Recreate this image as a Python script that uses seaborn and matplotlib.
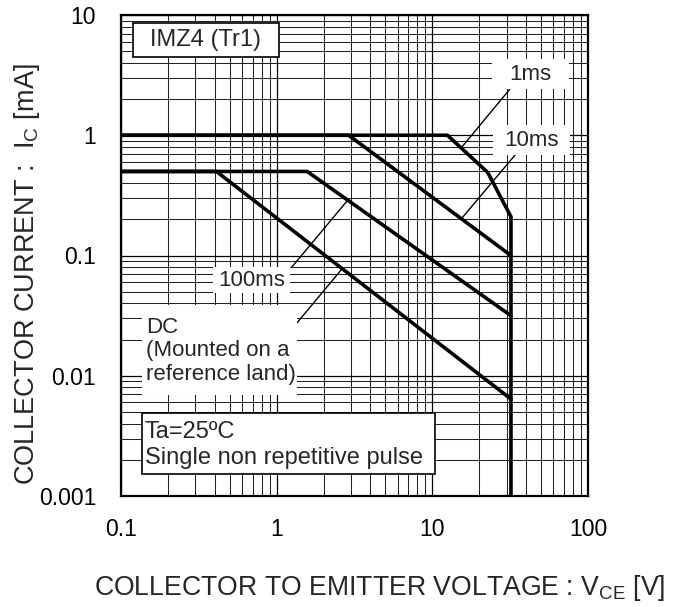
"""Safe operating area chart, IMZ4 (Tr1)."""
import matplotlib.pyplot as plt
import matplotlib.ticker as mticker
from matplotlib.patches import Rectangle
import numpy as np
import pandas as pd
import seaborn as sns

# curve vertices (V_CE [V], I_C [mA])
V_1MS = [0.1, 12.5, 22.7, 32.0, 32.0]
I_1MS = [1.0, 1.0, 0.49, 0.21, 0.001]
V_10MS = [0.1, 2.9, 32.0]
I_10MS = [1.0, 1.0, 0.1]
V_100MS = [0.1, 1.57, 32.0]
I_100MS = [0.5, 0.5, 0.0316]
V_DC = [0.1, 0.41, 32.0]
I_DC = [0.5, 0.5, 0.0064]

X_TICKS = [0.1, 1, 10, 100]
X_LABELS = ["0.1", "1", "10", "100"]
Y_TICKS = [0.001, 0.01, 0.1, 1, 10]
Y_LABELS = ["0.001", "0.01", "0.1", "1", "10"]

sns.set_theme(style="white")
plt.rcParams["font.family"] = ["Liberation Sans", "DejaVu Sans"]
plt.rcParams.update({
    "mathtext.fontset": "custom",
    "mathtext.rm": "Liberation Sans",
    "mathtext.it": "Liberation Sans",
})

df = pd.concat([
    pd.DataFrame({"V": V_1MS, "I": I_1MS, "curve": "1ms"}),
    pd.DataFrame({"V": V_10MS, "I": I_10MS, "curve": "10ms"}),
    pd.DataFrame({"V": V_100MS, "I": I_100MS, "curve": "100ms"}),
    pd.DataFrame({"V": V_DC, "I": I_DC, "curve": "DC"}),
])

fig = plt.figure(figsize=(6.84, 6.07), dpi=100)
ax = fig.add_axes([121 / 684, 1 - 496 / 607, 467 / 684, 481 / 607])
ax.set_xscale("log")
ax.set_yscale("log")
ax.set_xlim(0.1, 100)
ax.set_ylim(0.001, 10)

ax.xaxis.set_minor_locator(mticker.LogLocator(base=10, subs=np.arange(2, 10)))
ax.yaxis.set_minor_locator(mticker.LogLocator(base=10, subs=np.arange(2, 10)))
ax.grid(True, which="major", color="black", lw=0.9)
ax.grid(True, which="minor", color="#222222", lw=0.75)
ax.set_axisbelow(True)

for name, sub in df.groupby("curve", sort=False):
    sns.lineplot(data=sub, x="V", y="I", sort=False, estimator=None,
                 color="black", lw=2.6, ax=ax, legend=False, zorder=4)

ax.set_xticks(X_TICKS)
ax.set_xticklabels(X_LABELS)
ax.set_yticks(Y_TICKS)
ax.set_yticklabels(Y_LABELS)
ax.xaxis.set_minor_formatter(mticker.NullFormatter())
ax.yaxis.set_minor_formatter(mticker.NullFormatter())
ax.tick_params(which="both", length=0, labelsize=16.5, colors="black")
ax.tick_params(axis="x", pad=16)
ax.tick_params(axis="y", pad=18)
ax.set_xlabel("")
ax.set_ylabel("")
for sp in ax.spines.values():
    sp.set_visible(True)
    sp.set_color("black")
    sp.set_linewidth(1.6)
    sp.set_zorder(6)

# leader lines from labels to curves
leaders = [((31.5, 2.42), (15.5, 0.80)),
           ((34.0, 0.685), (15.5, 0.205)),
           ((1.25, 0.080), (2.87, 0.29)),
           ((1.35, 0.0275), (2.62, 0.077))]
for (x0, y0), (x1, y1) in leaders:
    ax.plot([x0, x1], [y0, y1], color="black", lw=1.0, zorder=5)


def label_box(x0, y0, x1, y1, edge):
    ax.add_patch(Rectangle((x0, y0), x1 - x0, y1 - y0, transform=ax.transAxes,
                           facecolor="white", edgecolor="black" if edge else "none",
                           lw=1.2, zorder=7))


label_box(0.026, 0.913, 0.338, 0.983, True)
ax.text(0.182, 0.948, "IMZ4 (Tr1)", transform=ax.transAxes, ha="center",
        va="center", fontsize=17, zorder=8)

label_box(0.794, 0.846, 0.959, 0.908, False)
ax.text(0.877, 0.877, "1ms", transform=ax.transAxes, ha="center",
        va="center", fontsize=16, zorder=8)

label_box(0.797, 0.709, 0.961, 0.771, False)
ax.text(0.879, 0.740, "10ms", transform=ax.transAxes, ha="center",
        va="center", fontsize=16, zorder=8)

label_box(0.197, 0.421, 0.362, 0.477, False)
ax.text(0.2795, 0.449, "100ms", transform=ax.transAxes, ha="center",
        va="center", fontsize=16, zorder=8)

label_box(0.045, 0.210, 0.377, 0.397, False)
ax.text(0.053, 0.3015, "DC\n(Mounted on a\nreference land)", transform=ax.transAxes,
        ha="left", va="center", fontsize=16, linespacing=1.15, zorder=8)

label_box(0.045, 0.0457, 0.672, 0.1726, True)
ax.text(0.051, 0.106, "Ta=25ºC\nSingle non repetitive pulse", transform=ax.transAxes,
        ha="left", va="center", fontsize=17, linespacing=1.25, zorder=8)

fig.text(380 / 684, 1 - 588 / 607, r"COLLECTOR TO EMITTER VOLTAGE : V$_{\mathrm{CE}}$ [V]",
         ha="center", va="center", fontsize=19.2)
fig.text(27 / 684, 1 - 274 / 607, r"COLLECTOR CURRENT :  I$_{\mathrm{C}}$ [mA]",
         ha="center", va="center", rotation=90, fontsize=19.5)

fig.savefig("out.png", dpi=100, facecolor="white")
